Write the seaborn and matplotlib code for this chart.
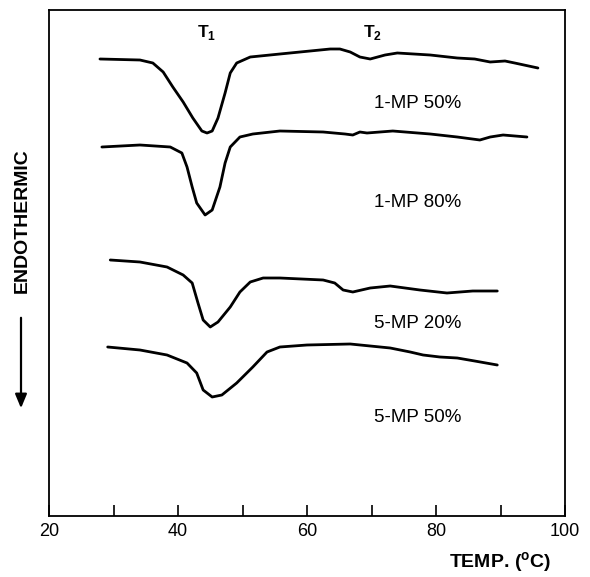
import numpy as np
import pandas as pd
import matplotlib
matplotlib.use("Agg")
import matplotlib.pyplot as plt
import seaborn as sns

# ---- data (temperature in °C, signal in arbitrary units; curves offset vertically) ----
t_1mp50 = [27.9, 34.1, 36.1, 37.7, 39.2, 40.8, 42.3, 43.7, 44.5, 45.3, 46.2, 47.3, 48.1, 49.1,
           51.2, 55.8, 63.6, 65.1, 66.7, 68.2, 69.8, 72.1, 74.0, 79.1, 83.3, 86.0, 88.4, 90.7, 92.2, 95.8]
s_1mp50 = [457, 456, 453, 444, 429, 414, 398, 385, 383, 385, 398, 423, 443, 453,
           459, 462, 467, 467, 464, 459, 457, 461, 463, 461, 458, 457, 454, 455, 453, 448]

t_1mp80 = [28.2, 34.1, 38.8, 40.6, 41.4, 42.2, 42.9, 44.2, 45.3, 46.5, 47.3, 48.1, 49.6, 51.6,
           55.8, 62.5, 65.9, 67.1, 68.2, 69.3, 73.3, 79.1, 83.3, 86.8, 88.4, 90.4, 94.1]
s_1mp80 = [369, 371, 369, 363, 349, 329, 313, 301, 306, 329, 353, 369, 379, 382,
           385, 384, 382, 381, 384, 383, 385, 382, 379, 376, 379, 381, 379]

t_5mp20 = [29.5, 34.1, 38.3, 40.8, 42.2, 43.1, 43.9, 45.0, 46.2, 48.1, 49.6, 51.2, 53.2, 55.8,
           62.5, 64.3, 65.6, 67.1, 69.8, 72.9, 77.5, 81.7, 85.7, 89.5]
s_5mp20 = [256, 254, 249, 241, 233, 213, 196, 189, 194, 209, 224, 234, 238, 238,
           236, 233, 226, 224, 228, 230, 226, 223, 225, 225]

t_5mp50 = [29.1, 34.1, 38.3, 41.4, 42.9, 43.9, 45.3, 46.8, 49.1, 51.6, 53.8, 55.8, 60.0, 66.7,
           69.8, 72.9, 76.0, 78.0, 80.6, 83.3, 86.0, 89.5]
s_5mp50 = [169, 166, 161, 153, 143, 126, 119, 121, 133, 149, 164, 169, 171, 172,
           170, 168, 164, 161, 159, 158, 155, 151]

samples = ["1-MP 50%", "1-MP 80%", "5-MP 20%", "5-MP 50%"]
label_y = [413, 314, 193, 98]
label_x = 77.2
peak_labels = ["T$_\\mathbf{1}$", "T$_\\mathbf{2}$"]
peak_x = [44.5, 70.1]
peak_y = 484
x_ticks = [20, 30, 40, 50, 60, 70, 80, 90, 100]
x_ticklabels = ["20", "", "40", "", "60", "", "80", "", "100"]

frames = []
for name, t, s in zip(samples, [t_1mp50, t_1mp80, t_5mp20, t_5mp50],
                      [s_1mp50, s_1mp80, s_5mp20, s_5mp50]):
    frames.append(pd.DataFrame({"temp": t, "signal": s, "sample": name}))
df = pd.concat(frames, ignore_index=True)

# ---- plot ----
sns.set_theme(style="white")
plt.rcParams["font.family"] = ["Liberation Sans", "DejaVu Sans"]
plt.rcParams["mathtext.fontset"] = "custom"
plt.rcParams["mathtext.rm"] = "Liberation Sans"
plt.rcParams["mathtext.bf"] = "Liberation Sans:bold"
plt.rcParams["text.color"] = "black"
plt.rcParams["xtick.color"] = "black"
plt.rcParams["xtick.labelcolor"] = "black"

fig = plt.figure(figsize=(5.9, 5.77), dpi=100)
ax = fig.add_axes([49 / 590, 1 - 516 / 577, (565 - 49) / 590, (516 - 10) / 577])

sns.lineplot(data=df, x="temp", y="signal", hue="sample", units="sample",
             estimator=None, sort=False, palette=["black"] * 4, linewidth=2.0,
             legend=False, ax=ax)
for ln in ax.get_lines():
    ln.set_solid_joinstyle("round")
    ln.set_solid_capstyle("round")

ax.set_xlim(20, 100)
ax.set_ylim(0, 506)
ax.set_xticks(x_ticks)
ax.set_xticklabels(x_ticklabels, fontsize=13)
ax.set_yticks([])
ax.tick_params(axis="x", bottom=True, direction="in", length=8, width=1.2,
               color="black", labelcolor="black", pad=5)
ax.set_xlabel("")
ax.set_ylabel("")
for sp in ax.spines.values():
    sp.set_visible(True)
    sp.set_color("black")
    sp.set_linewidth(1.3)

for name, y in zip(samples, label_y):
    ax.text(label_x, y, name, ha="center", va="center", fontsize=13.5, color="black")
for lab, x in zip(peak_labels, peak_x):
    ax.text(x, peak_y, lab, ha="center", va="center", fontsize=12.5, fontweight="bold",
            color="black")

fig.text(500 / 590, 1 - 563 / 577, "TEMP. ($^\\mathbf{o}$C)", ha="center", va="center",
         fontsize=14, fontweight="bold", color="black")
fig.text(22 / 590, 1 - 221 / 577, "ENDOTHERMIC", rotation=90, ha="center", va="center",
         fontsize=14, fontweight="bold", color="black")
fig.patches.append(matplotlib.patches.FancyArrowPatch(
    (21 / 590, 1 - 315 / 577), (21 / 590, 1 - 411 / 577), transform=fig.transFigure,
    arrowstyle="-|>,head_length=0.6,head_width=0.25", mutation_scale=14,
    linewidth=1.6, color="black"))

fig.savefig("out.png", dpi=100)
